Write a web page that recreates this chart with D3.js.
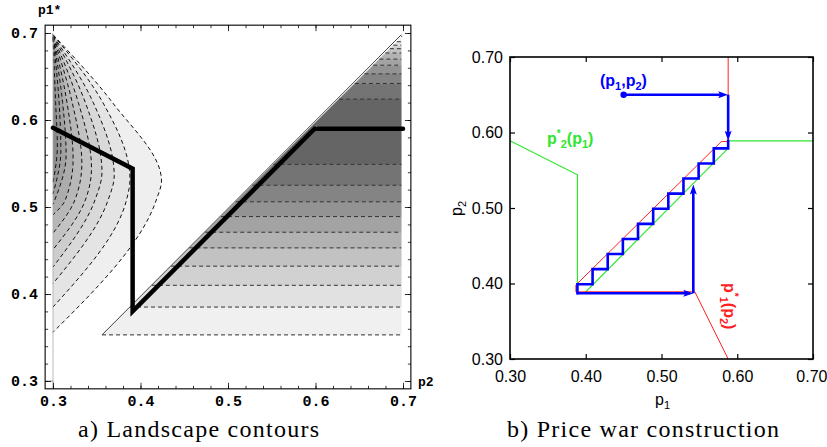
<!DOCTYPE html>
<html>
<head>
<meta charset="utf-8">
<script src="https://cdn.jsdelivr.net/npm/d3@7"></script>
<style>
body { margin: 0; background: #fff; }
svg { display: block; }
</style>
</head>
<body>
<div id="chart"></div>
<script>
// ---------- panel a: landscape contours (x = p2, y = p1*) ----------
var bestResponse = [[0.30, 0.591], [0.391, 0.544], [0.391, 0.380], [0.599, 0.590], [0.70, 0.590]];

// left region contours, outermost first
var contourTop    = [0.698, 0.698, 0.697, 0.697, 0.696, 0.696, 0.695, 0.695, 0.694, 0.694]; // p1 where it leaves p2=0.3
var midRow = 0.62;
var contourMid    = [0.368, 0.357, 0.346, 0.337, 0.329, 0.322, 0.316, 0.311, 0.307, 0.303];
var apexP2        = [0.424, 0.388, 0.370, 0.356, 0.344, 0.333, 0.323, 0.315, 0.309, 0.305];
var apexP1        = [0.530, 0.532, 0.536, 0.540, 0.545, 0.550, 0.555, 0.560, 0.565, 0.570];
var lowRow = 0.508;
var contourLow    = [0.418, 0.384, 0.363, 0.348, 0.337, 0.325, 0.314, null, null, null];
var contourBottom = [0.356, 0.385, 0.412, 0.431, 0.451, 0.470, 0.491, 0.503, 0.515, 0.528];

// right region: horizontal contour levels
var levelsBelow = [0.353, 0.385, 0.410, 0.432, 0.453, 0.471, 0.489, 0.506, 0.525, 0.549];
var levelsAbove = [0.624, 0.642, 0.653, 0.663, 0.670, 0.677, 0.682, 0.686, 0.690, 0.696];
var regionTip = 0.698;
var diagShift = 0.003;

var ticksA = [0.3, 0.4, 0.5, 0.6, 0.7];
var tickLabelsA = ["0.3", "0.4", "0.5", "0.6", "0.7"];

// ---------- panel b: price war construction (x = p1, y = p2) ----------
var greenCurve = [[0.30, 0.589], [0.389, 0.544], [0.389, 0.387], [0.398, 0.387], [0.588, 0.579], [0.588, 0.589], [0.70, 0.589]];
var redCurve   = [[0.588, 0.30], [0.544, 0.389], [0.387, 0.389], [0.387, 0.398], [0.579, 0.588], [0.588, 0.588], [0.588, 0.70]];
var startPoint = [0.45, 0.65];
var stairP1 = [0.588, 0.569, 0.549, 0.529, 0.509, 0.489, 0.469, 0.449, 0.429, 0.409, 0.389];
var stairP2 = [0.579, 0.559, 0.539, 0.519, 0.499, 0.479, 0.459, 0.439, 0.419, 0.399, 0.387];
var warEnd = [0.542, 0.531];

var ticksB = [0.3, 0.4, 0.5, 0.6, 0.7];
var tickLabelsB = ["0.30", "0.40", "0.50", "0.60", "0.70"];

var BLUE = "#0000ff", GREEN = "#2ee62e", RED = "#ff2020";

var svg = d3.select("#chart").append("svg")
    .attr("width", 827)
    .attr("height", 447);

// ===================== panel a =====================
var xa = d3.scaleLinear().domain([0.3, 0.7]).range([53, 403]);
var ya = d3.scaleLinear().domain([0.3, 0.7]).range([381, 33]);
var frameLo = 0.291, frameHi = 0.709;
var pa = svg.append("g").attr("class", "panel-a");

var shadeRight = d3.interpolateRgb("#f0f0f0", "#656565");
var shadeLeft = d3.interpolateRgb("#efefef", "#8a8a8a");

// right region bands: [from, to, level]
var nb = levelsBelow.length;
var bands = [];
for (var i = 0; i < nb - 1; i++) bands.push([levelsBelow[i], levelsBelow[i + 1], i]);
bands.push([levelsBelow[nb - 1], levelsAbove[0], nb - 1]);
for (var j = 0; j < levelsAbove.length; j++) {
    var upper = j < levelsAbove.length - 1 ? levelsAbove[j + 1] : regionTip;
    bands.push([levelsAbove[j], upper, Math.max(nb - 2 - j, 0)]);
}
pa.selectAll(".band").data(bands).enter().append("path")
    .attr("class", "band")
    .attr("d", function(b) {
        var pts = [[b[0] + diagShift, b[0]], [regionTip, b[0]], [regionTip, b[1]], [b[1] + diagShift, b[1]]];
        return "M" + pts.map(function(p) { return xa(p[0]) + "," + ya(p[1]); }).join("L") + "Z";
    })
    .attr("fill", function(b) { return shadeRight(b[2] / 9); })
    .attr("stroke", function(b) { return shadeRight(b[2] / 9); })
    .attr("stroke-width", 0.5);

pa.selectAll(".hlevel").data(levelsBelow.concat(levelsAbove)).enter().append("line")
    .attr("class", "hlevel")
    .attr("x1", function(d) { return xa(d + diagShift); })
    .attr("x2", xa(regionTip))
    .attr("y1", function(d) { return ya(d); })
    .attr("y2", function(d) { return ya(d); })
    .attr("stroke", "#333")
    .attr("stroke-width", 1)
    .attr("stroke-dasharray", "4,3");

// diagonal edge of right region
pa.append("line")
    .attr("x1", xa(levelsBelow[0] + diagShift)).attr("y1", ya(levelsBelow[0]))
    .attr("x2", xa(regionTip)).attr("y2", ya(regionTip))
    .attr("stroke", "#444").attr("stroke-width", 1);

// left region contours
var leftContours = contourTop.map(function(t, k) {
    var pts = [[0.3, t], [contourMid[k], midRow], [apexP2[k], apexP1[k]]];
    if (contourLow[k] !== null) pts.push([contourLow[k], lowRow]);
    pts.push([0.3, contourBottom[k]]);
    return pts;
});
var cline = d3.line()
    .x(function(d) { return xa(d[0]); })
    .y(function(d) { return ya(d[1]); })
    .curve(d3.curveMonotoneY);

pa.selectAll(".cfill").data(leftContours).enter().append("path")
    .attr("class", "cfill")
    .attr("d", function(d) { return cline(d) + "Z"; })
    .attr("fill", function(d, k) { return shadeLeft(k / 9); });

pa.selectAll(".cline").data(leftContours).enter().append("path")
    .attr("class", "cline")
    .attr("d", function(d) { return cline(d); })
    .attr("fill", "none")
    .attr("stroke", "#111")
    .attr("stroke-width", 1)
    .attr("stroke-dasharray", "4,3");

// light strip between region edge and best response
pa.append("line")
    .attr("x1", xa(bestResponse[2][0] + 0.004)).attr("y1", ya(bestResponse[2][1] + 0.004))
    .attr("x2", xa(bestResponse[3][0] + 0.003)).attr("y2", ya(bestResponse[3][1] + 0.003))
    .attr("stroke", "#e6e6e6").attr("stroke-width", 1.3);

// Mathematica axis remnants
pa.append("line")
    .attr("x1", xa(0.3)).attr("x2", xa(0.3))
    .attr("y1", ya(0.3)).attr("y2", ya(0.7))
    .attr("stroke", "#aaa").attr("stroke-width", 0.8);
pa.append("path")
    .attr("d", "M" + xa(frameLo) + "," + ya(0.3) + "H" + xa(0.3) + "V" + ya(frameLo))
    .attr("fill", "none").attr("stroke", "#888").attr("stroke-width", 0.8);

// best response
pa.append("path")
    .attr("d", d3.line().x(function(d) { return xa(d[0]); }).y(function(d) { return ya(d[1]); })(bestResponse))
    .attr("fill", "none")
    .attr("stroke", "#000")
    .attr("stroke-width", 4.5)
    .attr("stroke-linecap", "round")
    .attr("stroke-linejoin", "miter");

// frame
pa.append("rect")
    .attr("x", xa(frameLo)).attr("y", ya(frameHi))
    .attr("width", xa(frameHi) - xa(frameLo))
    .attr("height", ya(frameLo) - ya(frameHi))
    .attr("fill", "none").attr("stroke", "#000").attr("stroke-width", 1.1);

var minorA = d3.range(0.30, 0.7001, 0.02);
function framed(axis, transform, size, vals, labels) {
    var g = pa.append("g").attr("transform", transform)
        .call(axis.tickValues(vals).tickSize(-size).tickPadding(labels ? 7 : 0)
            .tickFormat(function(d, i) { return labels ? labels[i] : ""; }));
    g.select(".domain").remove();
    g.selectAll("line").attr("stroke", "#000").attr("stroke-width", 0.8);
    g.selectAll("text")
        .attr("font-family", "'Liberation Mono', monospace")
        .attr("font-weight", "bold")
        .attr("font-size", 15)
        .attr("fill", "#000");
    return g;
}
var yb = ya(frameLo), yt = ya(frameHi), xl = xa(frameLo), xr = xa(frameHi);
framed(d3.axisBottom(xa), "translate(0," + yb + ")", 3, minorA, null);
framed(d3.axisBottom(xa), "translate(0," + yb + ")", 6, ticksA, tickLabelsA);
framed(d3.axisTop(xa), "translate(0," + yt + ")", 3, minorA, null);
framed(d3.axisTop(xa), "translate(0," + yt + ")", 6, ticksA, null);
framed(d3.axisLeft(ya), "translate(" + xl + ",0)", 3, minorA, null);
framed(d3.axisLeft(ya), "translate(" + xl + ",0)", 6, ticksA, tickLabelsA);
framed(d3.axisRight(ya), "translate(" + xr + ",0)", 3, minorA, null);
framed(d3.axisRight(ya), "translate(" + xr + ",0)", 6, ticksA, null);

pa.append("text").attr("x", 38).attr("y", 14)
    .attr("font-family", "'Liberation Mono', monospace").attr("font-weight", "bold").attr("font-size", 13)
    .text("p1*");
pa.append("text").attr("x", 418).attr("y", 386)
    .attr("font-family", "'Liberation Mono', monospace").attr("font-weight", "bold").attr("font-size", 13)
    .text("p2");

// ===================== panel b =====================
var xb = d3.scaleLinear().domain([0.3, 0.7]).range([510, 813]);
var ybs = d3.scaleLinear().domain([0.3, 0.7]).range([359, 57]);
var pb = svg.append("g").attr("class", "panel-b");

var lineB = d3.line()
    .x(function(d) { return xb(d[0]); })
    .y(function(d) { return ybs(d[1]); });

pb.append("path").attr("d", lineB(greenCurve))
    .attr("fill", "none").attr("stroke", GREEN).attr("stroke-width", 1.2);
pb.append("path").attr("d", lineB(redCurve))
    .attr("fill", "none").attr("stroke", RED).attr("stroke-width", 1);

// staircase
var flat = greenCurve[greenCurve.length - 1][1];
var stair = [[stairP1[0], flat], [stairP1[0], stairP2[0]]];
for (var s = 1; s < stairP1.length; s++) {
    stair.push([stairP1[s], stairP2[s - 1]]);
    stair.push([stairP1[s], stairP2[s]]);
}
pb.append("path").attr("d", lineB(stair))
    .attr("fill", "none").attr("stroke", BLUE).attr("stroke-width", 2.6)
    .attr("stroke-linejoin", "miter").attr("stroke-linecap", "square");

var defs = svg.append("defs");
defs.append("marker")
    .attr("id", "head")
    .attr("markerUnits", "userSpaceOnUse")
    .attr("viewBox", "0 0 10 7")
    .attr("refX", 10).attr("refY", 3.5)
    .attr("markerWidth", 10).attr("markerHeight", 7)
    .attr("orient", "auto")
    .append("path").attr("d", "M0,0L10,3.5L0,7L2,3.5Z").attr("fill", BLUE);

var last = stairP1.length - 1;
var arrows = [
    [startPoint, [stairP1[0], startPoint[1]]],
    [[stairP1[0], startPoint[1]], [stairP1[0], flat]],
    [[stairP1[last], stairP2[last]], [warEnd[0], stairP2[last]]],
    [[warEnd[0], stairP2[last]], [warEnd[0], warEnd[1]]]
];
arrows.forEach(function(a) {
    var x1 = xb(a[0][0]), y1 = ybs(a[0][1]), x2 = xb(a[1][0]), y2 = ybs(a[1][1]);
    var len = Math.sqrt((x2 - x1) * (x2 - x1) + (y2 - y1) * (y2 - y1));
    var ux = (x2 - x1) / len, uy = (y2 - y1) / len;
    pb.append("line")
        .attr("x1", x1).attr("y1", y1)
        .attr("x2", x2 - ux * 6).attr("y2", y2 - uy * 6)
        .attr("stroke", BLUE).attr("stroke-width", 2.6);
    pb.append("line")
        .attr("x1", x2 - ux * 7).attr("y1", y2 - uy * 7)
        .attr("x2", x2).attr("y2", y2)
        .attr("stroke", "none")
        .attr("marker-end", "url(#head)");
});
pb.append("circle")
    .attr("cx", xb(startPoint[0])).attr("cy", ybs(startPoint[1]))
    .attr("r", 3.2).attr("fill", BLUE);

// frame and ticks
pb.append("rect")
    .attr("x", xb(0.3)).attr("y", ybs(0.7))
    .attr("width", xb(0.7) - xb(0.3)).attr("height", ybs(0.3) - ybs(0.7))
    .attr("fill", "none").attr("stroke", "#000").attr("stroke-width", 1.6);

function axisB(axis, transform, pad, labels) {
    var g = pb.append("g").attr("transform", transform)
        .call(axis.tickValues(ticksB).tickSize(-5).tickPadding(pad)
            .tickFormat(function(d, i) { return labels ? labels[i] : ""; }));
    g.select(".domain").remove();
    g.selectAll("line").attr("stroke", "#000").attr("stroke-width", 1.2);
    g.selectAll("text")
        .attr("font-family", "'Liberation Sans', Arial, sans-serif")
        .attr("font-size", 16)
        .attr("fill", "#000");
    return g;
}
var bottomAxis = axisB(d3.axisBottom(xb), "translate(0," + ybs(0.3) + ")", 12, tickLabelsB);
bottomAxis.selectAll("text").filter(function(d) { return d === ticksB[ticksB.length - 1]; })
    .attr("text-anchor", "end").attr("dx", 14);
axisB(d3.axisLeft(ybs), "translate(" + xb(0.3) + ",0)", 7, tickLabelsB);
axisB(d3.axisTop(xb), "translate(0," + ybs(0.7) + ")", 0, null);
axisB(d3.axisRight(ybs), "translate(" + xb(0.7) + ",0)", 0, null);

var sans = "'Liberation Sans', Arial, sans-serif";
var xlab = pb.append("text").attr("x", 655).attr("y", 405)
    .attr("font-family", sans).attr("font-size", 16);
xlab.append("tspan").text("p");
xlab.append("tspan").attr("dy", 4).attr("font-size", 11).text("1");

var ylab = pb.append("text").attr("transform", "translate(462,216) rotate(-90)")
    .attr("font-family", sans).attr("font-size", 16);
ylab.append("tspan").text("p");
ylab.append("tspan").attr("dy", 4).attr("font-size", 11).text("2");

var lab1 = pb.append("text").attr("x", 600).attr("y", 86)
    .attr("font-family", sans).attr("font-size", 16).attr("font-weight", "bold").attr("fill", BLUE);
lab1.append("tspan").text("(p");
lab1.append("tspan").attr("dy", 4).attr("font-size", 11).text("1");
lab1.append("tspan").attr("dy", -4).text(",p");
lab1.append("tspan").attr("dy", 4).attr("font-size", 11).text("2");
lab1.append("tspan").attr("dy", -4).text(")");

var lab2 = pb.append("text").attr("x", 547).attr("y", 144)
    .attr("font-family", sans).attr("font-size", 16).attr("font-weight", "bold").attr("fill", GREEN);
lab2.append("tspan").text("p");
lab2.append("tspan").attr("dy", -7).attr("font-size", 10).text("*");
lab2.append("tspan").attr("dy", 11).attr("font-size", 11).text("2");
lab2.append("tspan").attr("dy", -4).text("(p");
lab2.append("tspan").attr("dy", 4).attr("font-size", 11).text("1");
lab2.append("tspan").attr("dy", -4).text(")");

var lab3 = pb.append("text").attr("transform", "translate(724,283) rotate(90)")
    .attr("font-family", sans).attr("font-size", 16).attr("font-weight", "bold").attr("fill", RED);
lab3.append("tspan").text("p");
lab3.append("tspan").attr("dy", -7).attr("font-size", 10).text("*");
lab3.append("tspan").attr("dy", 11).attr("font-size", 11).text("1");
lab3.append("tspan").attr("dy", -4).text("(p");
lab3.append("tspan").attr("dy", 4).attr("font-size", 11).text("2");
lab3.append("tspan").attr("dy", -4).text(")");

// captions
var serif = "'Liberation Serif', 'DejaVu Serif', serif";
svg.append("text").attr("x", 78).attr("y", 437)
    .attr("font-family", serif).attr("font-size", 24)
    .attr("textLength", 241).attr("lengthAdjust", "spacing")
    .text("a) Landscape contours");
svg.append("text").attr("x", 507).attr("y", 437)
    .attr("font-family", serif).attr("font-size", 24)
    .attr("textLength", 272).attr("lengthAdjust", "spacing")
    .text("b) Price war construction");
</script>
</body>
</html>
